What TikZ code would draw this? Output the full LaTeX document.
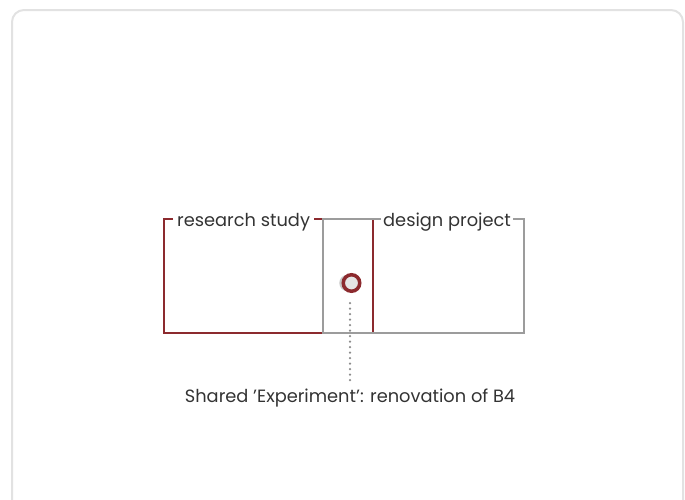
\documentclass[tikz,border=0pt]{standalone}
\usepackage{fontspec}
\setmainfont{Poppins}
\usepackage{tikz}
\usetikzlibrary{shapes, arrows.meta, calc, positioning, shadows}
\definecolor{studyred}{HTML}{8C2A2E}
\definecolor{projgray}{HTML}{9C9C9C}
\definecolor{framegray}{HTML}{E2E2E2}
\definecolor{textgray}{HTML}{333333}
\tikzstyle{area} = [rectangle, minimum width=0, inner sep=0]
\tikzstyle{tag} = [inner xsep=4pt, inner ysep=0pt, text=textgray, font=\fontsize{17.8}{20}\selectfont]
\tikzstyle{line} = [draw, line width=2.4pt]

\begin{document}
\begin{tikzpicture}[x=1pt, y=-1pt,
    studyline/.style={line, studyred},
    projline/.style={line, projgray},
    experiment/.style={circle, draw=studyred, line width=3.5pt, fill=black!10,
        minimum size=16.5pt, inner sep=0,
        drop shadow={shadow xshift=-4pt, shadow yshift=0pt, fill=black!22, opacity=1}},
    dots/.style={draw=black!45, line width=2.5pt, line cap=round,
        dash pattern=on 0pt off 5.5pt}
    ]
    \useasboundingbox (0,0) rectangle (685,499);
    \draw[framegray, line width=2pt, rounded corners=12pt] (12,10) rectangle (683,520);

    % boxes
    \node[area, minimum width=209pt, minimum height=114pt] (research) at (268.5,276) {};
    \node[area, minimum width=201pt, minimum height=114pt] (design) at (423.5,276) {};

    \node[tag, anchor=base west] (rlabel) at (173,226) {research study};
    \node[tag, anchor=base west, inner xsep=2pt] (dlabel) at (381,226) {design project};

    \draw[studyline] (rlabel.west |- research.north) -- (research.north west) --
          (research.south west) -- (research.south east) -- (research.north east) --
          (rlabel.east |- research.north);
    \draw[projline] (dlabel.west |- design.north) -- (design.north west) --
          (design.south west) -- (design.south east) -- (design.north east) --
          (dlabel.east |- design.north);

    \node[experiment] (exp) at (351.5,283) {};
    \node[tag, anchor=base] (shared) at (350,402) {Shared 'Experiment': renovation of B4};
    \draw[dots, shorten <=10pt, shorten >=7pt] (exp.south -| shared.north) -- (shared.north);
\end{tikzpicture}
\end{document}
